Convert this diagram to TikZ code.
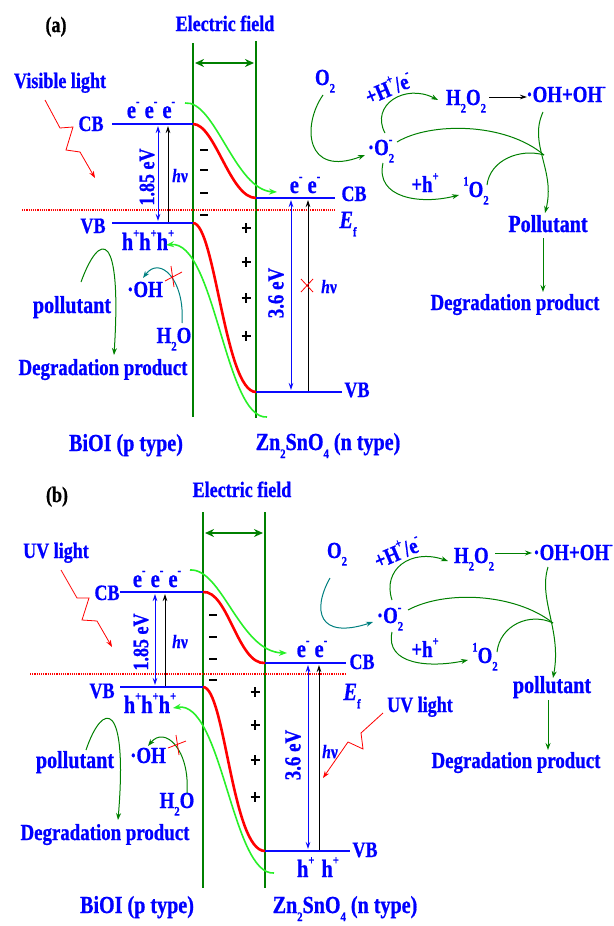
\documentclass[tikz,border=0pt]{standalone}
\usepackage{fontspec}
\setmainfont{Liberation Serif}[FakeStretch=0.82, BoldFeatures={FakeBold=0.8}, BoldItalicFeatures={FakeBold=0.6}]
\usetikzlibrary{arrows.meta}
\definecolor{tblue}{RGB}{0,0,255}
\definecolor{bblue}{RGB}{10,10,255}
\definecolor{dgreen}{RGB}{0,128,0}
\definecolor{lgreen}{RGB}{40,240,40}
\definecolor{teal2}{RGB}{0,128,128}
\definecolor{rred}{RGB}{255,0,0}
\newcommand{\mysub}[1]{\raisebox{-0.33em}{\fontsize{13}{14}\selectfont #1}}
\newcommand{\mysup}[1]{\raisebox{0.5em}{\fontsize{13}{14}\selectfont #1}}
\tikzset{
  every node/.style={inner sep=0pt},
  t/.style={font=\bfseries\fontsize{23}{26}\selectfont, text=tblue, anchor=base},
  te/.style={font=\bfseries\fontsize{25}{28}\selectfont, text=tblue, anchor=base},
  tl/.style={font=\bfseries\fontsize{24.5}{28}\selectfont, text=tblue, anchor=base},
  tb/.style={font=\bfseries\fontsize{22}{25}\selectfont, text=tblue, anchor=base},
  tf/.style={font=\bfseries\fontsize{22}{25}\selectfont, text=tblue, anchor=base},
  hv/.style={font=\bfseries\itshape\fontsize{19}{22}\selectfont, text=tblue, anchor=base},
  ef/.style={font=\bfseries\itshape\fontsize{25}{28}\selectfont, text=tblue, anchor=base},
  band/.style={draw=bblue, line width=2.8pt},
  field/.style={draw=dgreen, line width=2.4pt},
  fieldarr/.style={draw=dgreen, line width=2pt, {Stealth[length=9pt,width=8pt]}-{Stealth[length=9pt,width=8pt]}},
  bendc/.style={draw=rred, line width=2.6pt},
  dotl/.style={draw=rred, line width=1.2pt, dash pattern=on 1.2pt off 1pt},
  garr/.style={draw=dgreen, line width=1pt, -{Stealth[length=7pt,width=5pt]}},
  tarr/.style={draw=teal2, line width=1pt, -{Stealth[length=7pt,width=5pt]}},
  larr/.style={draw=lgreen, line width=1.6pt, -{Stealth[length=8pt,width=6pt]}},
  karr/.style={draw=black, line width=0.8pt, -{Stealth[length=7pt,width=4.5pt]}},
  gap/.style={draw=bblue, line width=0.8pt, {Stealth[length=7pt,width=4.5pt]}-{Stealth[length=7pt,width=4.5pt]}},
  bolt/.style={draw=rred, line width=0.8pt, -{Stealth[length=7pt,width=5pt]}},
  xmark/.style={draw=rred, line width=0.8pt},
  minus/.style={draw=black, line width=2.2pt},
  plus/.style={draw=black, line width=1.6pt}
}
\begin{document}
\begin{tikzpicture}[x=1pt,y=-1pt]
\useasboundingbox (0,0) rectangle (613,926);
\fill[white] (0,0) rectangle (613,926);

%%%%%%%%%%%%%%%%%%%% PANEL (a) %%%%%%%%%%%%%%%%%%%%
\node[tf,text=black] (la) at (56,32) {(a)};
\node[tf] (efa) at (225,31) {Electric field};
\draw[field] (193,43) -- (193,417);
\draw[field] (256,41) -- (256,418);
\coordinate (fa1) at (195,63); \coordinate (fa2) at (254,63);
\draw[fieldarr] (fa1) -- (fa2);
\draw[dotl] (22,210) -- (335,210);
% bands
\coordinate (cbLa1) at (112,124); \coordinate (cbLa2) at (193,124);
\coordinate (vbLa1) at (112,223); \coordinate (vbLa2) at (193,223);
\coordinate (cbRa1) at (256,198); \coordinate (cbRa2) at (335,198);
\coordinate (vbRa1) at (256,392); \coordinate (vbRa2) at (342,392);
\draw[band] (cbLa1) -- (cbLa2);
\draw[band] (vbLa1) -- (vbLa2);
\draw[band] (cbRa1) -- (cbRa2);
\draw[band] (vbRa1) -- (vbRa2);
\draw[bendc] (cbLa2) .. controls (215,124) and (230,198) .. (cbRa1);
\draw[bendc] (vbLa2) .. controls (215,223) and (225,392) .. (vbRa1);
% gap arrows
\draw[gap] (158,126) -- (158,221);
\draw[karr] (168,222) -- (168,126);
\draw[gap] (291,200) -- (291,390);
\draw[karr] (308,391) -- (308,200);
\draw[xmark] (301,279) -- (313,292) (301,292) -- (313,279);
% charges
\foreach \yy in {150,170,193,215} \draw[minus] (200,\yy) -- (208,\yy);
\foreach \yy in {228,262,298,336} \draw[plus] (241.5,\yy) -- (250.5,\yy) (246,\yy-5) -- (246,\yy+5);
% labels
\node[tf] (visa) at (60,88) {Visible light};
\draw[bolt] (45,100) -- (60,128) -- (73,127) -- (66,150) -- (80,152) -- (95,178);
\node[tb] (cbla) at (91,131) {CB};
\node[tb] (vbla) at (93,233) {VB};
\node[te] (eea) at (151,118) {e\mysup{-} e\mysup{-} e\mysup{-}};
\node[te] (hha) at (148,250) {h\mysup{+}h\mysup{+}h\mysup{+}};
\node[tf,anchor=center,rotate=90] (g1a) at (147,177) {1.85 eV};
\node[hv] (hv1a) at (180,182) {h\textnormal{\bfseries ν}};
\node[te] (eera) at (305,193) {e\mysup{-}\ e\mysup{-}};
\node[tb] (cbra) at (354,201) {CB};
\node[ef] (Efa) at (348,228) {E\mysub{\upshape f}};
\node[tb] (vbra) at (357,397) {VB};
\node[t,anchor=center,rotate=90] (g2a) at (276,293) {3.6 eV};
\node[hv] (hv2a) at (329,293) {h\textnormal{\bfseries ν}};
\node[tl] (bioia) at (126,451) {BiOI (p type)};
\node[tl] (znoa) at (328,450) {Zn\mysub{2}SnO\mysub{4} (n type)};
% light-generated carriers
\coordinate (lga1) at (185,103); \coordinate (lga2) at (277,192);
\draw[larr] (lga1) .. controls (215,100) and (235,190) .. (lga2);
\coordinate (lga3) at (267,417); \coordinate (lga4) at (166,245);
\draw[larr] (lga3) .. controls (225,420) and (215,240) .. (lga4);
% left lower
\node[tl] (pola) at (72,313) {pollutant};
\node[t] (oha) at (145,297) {·OH};
\node[t] (h2oa) at (174,343) {H\mysub{2}O};
\node[t] (dega) at (103,375) {Degradation product};
\coordinate (pa1) at (81,282); \coordinate (pa2) at (114,355);
\draw[garr] (pa1) .. controls (100,230) and (122,230) .. (pa2);
\coordinate (wa1) at (182,323); \coordinate (wa2) at (143,278);
\draw[tarr] (wa1) .. controls (185,280) and (160,255) .. (wa2);
\draw[xmark] (165,281) -- (182,272) (171,266) -- (174,287);
% right reactions
\node[t] (o2a) at (325,85) {O\mysub{2}};
\node[t] (sa) at (381,155) {·O\rlap{\mysup{-}}\mysub{2}};
\node[t,anchor=center,rotate=23] (hea) at (388,87) {+H\mysup{+}/e\mysup{-}};
\node[t] (h2o2a) at (466,105) {H\mysub{2}O\mysub{2}};
\node[t] (ohoha) at (566,102) {·OH+OH\mysup{-}};
\node[t] (pha) at (425,192) {+h\mysup{+}};
\node[t] (soa) at (476,197) {\mysup{1}O\mysub{2}};
\node[tl] (Pola) at (548,232) {Pollutant};
\node[t] (dega2) at (515,310) {Degradation product};
\coordinate (ra1) at (323,95); \coordinate (ra2) at (365,155);
\draw[garr] (ra1) .. controls (302,125) and (305,178) .. (ra2);
\coordinate (rb1) at (385,133); \coordinate (rb2) at (438,100);
\draw[garr] (rb1) .. controls (370,105) and (405,83) .. (rb2);
\coordinate (rc1) at (489,97); \coordinate (rc2) at (527,97);
\draw[karr] (rc1) -- (rc2);
\coordinate (rd1) at (383,163); \coordinate (rd2) at (459,195);
\draw[garr] (rd1) .. controls (375,198) and (420,205) .. (rd2);
\coordinate (ja) at (544,155);
\draw[draw=dgreen, line width=1pt] (397,142) .. controls (430,122) and (505,122) .. (ja);
\draw[draw=dgreen, line width=1pt] (487,185) .. controls (490,160) and (520,148) .. (ja);
\coordinate (re1) at (543,112); \coordinate (re2) at (545,213);
\draw[garr] (re1) .. controls (528,145) and (556,170) .. (re2);
\coordinate (rf1) at (543,238); \coordinate (rf2) at (543,292);
\draw[garr] (rf1) -- (rf2);

%%%%%%%%%%%%%%%%%%%% PANEL (b) %%%%%%%%%%%%%%%%%%%%
\node[tf,text=black] (lb) at (57,502) {(b)};
\node[tf] (efb) at (242,497) {Electric field};
\draw[field] (203,512) -- (203,888);
\draw[field] (265,512) -- (265,888);
\coordinate (fb1) at (205,533); \coordinate (fb2) at (263,533);
\draw[fieldarr] (fb1) -- (fb2);
\draw[dotl] (30,674) -- (345,674);
\coordinate (cbLb1) at (120,592); \coordinate (cbLb2) at (203,592);
\coordinate (vbLb1) at (120,687); \coordinate (vbLb2) at (203,687);
\coordinate (cbRb1) at (265,663); \coordinate (cbRb2) at (346,663);
\coordinate (vbRb1) at (265,851); \coordinate (vbRb2) at (350,851);
\draw[band] (cbLb1) -- (cbLb2);
\draw[band] (vbLb1) -- (vbLb2);
\draw[band] (cbRb1) -- (cbRb2);
\draw[band] (vbRb1) -- (vbRb2);
\draw[bendc] (cbLb2) .. controls (228,590) and (238,665) .. (cbRb1);
\draw[bendc] (vbLb2) .. controls (225,687) and (232,851) .. (vbRb1);
\draw[gap] (155,594) -- (155,685);
\draw[karr] (165,686) -- (165,594);
\draw[gap] (308,665) -- (308,849);
\draw[karr] (319,850) -- (319,665);
\foreach \yy in {615,637,659,680} \draw[minus] (209,\yy) -- (217,\yy);
\foreach \yy in {692,725,760,797} \draw[plus] (250.5,\yy) -- (259.5,\yy) (255,\yy-5) -- (255,\yy+5);
\node[tf] (uvb) at (56,558) {UV light};
\draw[bolt] (61,570) -- (77,598) -- (89,598) -- (82,620) -- (97,621) -- (112,647);
\node[tb] (cblb) at (107,600) {CB};
\node[tb] (vblb) at (102,698) {VB};
\node[te] (eeb) at (157,587) {e\mysup{-} e\mysup{-} e\mysup{-}};
\node[te] (hhb) at (150,713) {h\mysup{+}h\mysup{+}h\mysup{+}};
\node[tf,anchor=center,rotate=90] (g1b) at (141,642) {1.85 eV};
\node[hv] (hv1b) at (180,648) {h\textnormal{\bfseries ν}};
\node[te] (eerb) at (312,657) {e\mysup{-}\ e\mysup{-}};
\node[tb] (cbrb) at (362,669) {CB};
\node[ef] (Efb) at (352,700) {E\mysub{\upshape f}};
\node[tb] (vbrb) at (365,857) {VB};
\node[te] (hhrb) at (318,877) {h\mysup{+}\hspace{7pt}h\mysup{+}};
\node[t,anchor=center,rotate=90] (g2b) at (293,755) {3.6 eV};
\node[hv] (hv2b) at (330,758) {h\textnormal{\bfseries ν}};
\node[tf] (uv2b) at (420,712) {UV light};
\draw[bolt] (383,713) -- (361,733) -- (363,749) -- (348,742) -- (323,778);
\node[tl] (bioib) at (137,913) {BiOI (p type)};
\node[tl] (znob) at (345,913) {Zn\mysub{2}SnO\mysub{4} (n type)};
\coordinate (lgb1) at (190,570); \coordinate (lgb2) at (287,653);
\draw[larr] (lgb1) .. controls (222,568) and (240,652) .. (lgb2);
\coordinate (lgb3) at (274,873); \coordinate (lgb4) at (173,708);
\draw[larr] (lgb3) .. controls (232,876) and (222,700) .. (lgb4);
\node[tl] (polb) at (75,768) {pollutant};
\node[t] (ohb) at (148,763) {·OH};
\node[t] (h2ob) at (177,808) {H\mysub{2}O};
\node[t] (degb) at (105,840) {Degradation product};
\coordinate (pb1) at (86,750); \coordinate (pb2) at (118,820);
\draw[garr] (pb1) .. controls (103,700) and (128,700) .. (pb2);
\coordinate (wb1) at (187,793); \coordinate (wb2) at (148,746);
\draw[garr] (wb1) .. controls (190,750) and (165,725) .. (wb2);
\draw[xmark] (168,748) -- (186,741) (176,735) -- (179,755);
\node[t] (o2b) at (337,558) {O\mysub{2}};
\node[t] (sb) at (390,623) {·O\rlap{\mysup{-}}\mysub{2}};
\node[t,anchor=center,rotate=23] (heb) at (397,551) {+H\mysup{+}/e\mysup{-}};
\node[t] (h2o2b) at (474,563) {H\mysub{2}O\mysub{2}};
\node[t] (ohohb) at (573,560) {·OH+OH\mysup{-}};
\node[t] (phb) at (425,657) {+h\mysup{+}};
\node[t] (sob) at (485,663) {\mysup{1}O\mysub{2}};
\node[tl] (Polb) at (552,693) {pollutant};
\node[t] (degb2) at (516,768) {Degradation product};
\coordinate (sa1) at (330,578); \coordinate (sa2) at (373,622);
\draw[tarr] (sa1) .. controls (312,610) and (318,640) .. (sa2);
\coordinate (sb1) at (392,600); \coordinate (sb2) at (448,561);
\draw[garr] (sb1) .. controls (382,570) and (410,548) .. (sb2);
\coordinate (sc1) at (495,553); \coordinate (sc2) at (532,553);
\draw[garr] (sc1) -- (sc2);
\coordinate (sd1) at (392,632); \coordinate (sd2) at (468,660);
\draw[garr] (sd1) .. controls (385,665) and (430,668) .. (sd2);
\coordinate (jb) at (553,623);
\draw[draw=dgreen, line width=1pt] (408,610) .. controls (445,590) and (515,593) .. (jb);
\draw[draw=dgreen, line width=1pt] (497,652) .. controls (500,625) and (530,612) .. (jb);
\coordinate (se1) at (548,567); \coordinate (se2) at (553,678);
\draw[garr] (se1) .. controls (538,600) and (562,630) .. (se2);
\coordinate (sf1) at (548,700); \coordinate (sf2) at (548,750);
\draw[garr] (sf1) -- (sf2);
\end{tikzpicture}
\end{document}
